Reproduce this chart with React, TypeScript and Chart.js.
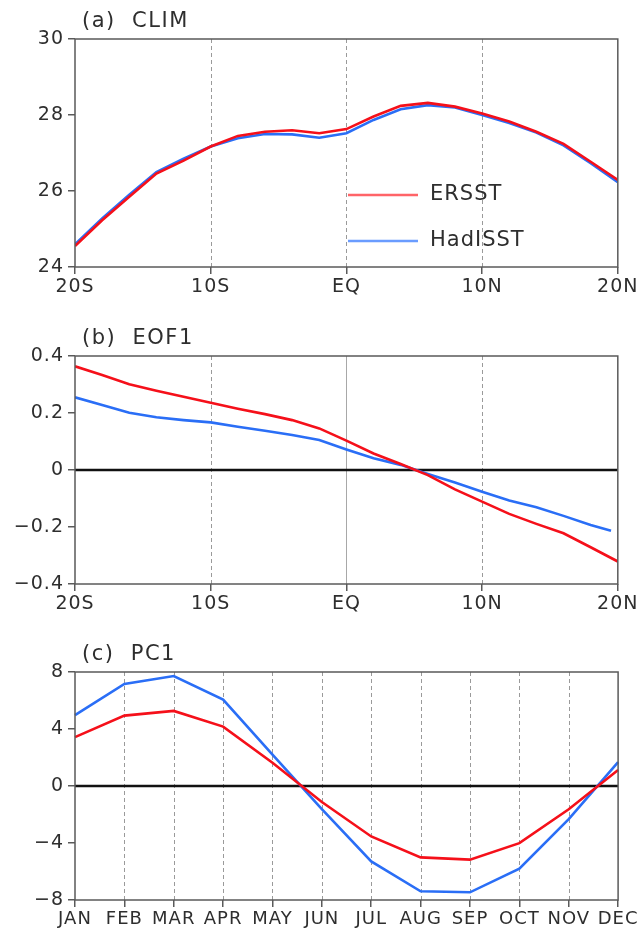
import React, { useEffect, useRef } from "react";
import { Chart, registerables } from "chart.js";

Chart.register(...registerables);

// ---------- data ----------
const latitudes = [-20, -18, -16, -14, -12, -10, -8, -6, -4, -2, 0, 2, 4, 6, 8, 10, 12, 14, 16, 18, 20];
const climERSST = [24.55, 25.23, 25.85, 26.46, 26.8, 27.17, 27.45, 27.56, 27.6, 27.52, 27.63, 27.96, 28.24, 28.32, 28.22, 28.04, 27.83, 27.56, 27.24, 26.77, 26.29];
const climHadISST = [24.6, 25.28, 25.9, 26.5, 26.85, 27.17, 27.39, 27.5, 27.49, 27.4, 27.52, 27.87, 28.15, 28.26, 28.2, 28.0, 27.79, 27.54, 27.2, 26.73, 26.23];

const eofERSST = [0.364, 0.333, 0.301, 0.278, 0.257, 0.236, 0.215, 0.196, 0.175, 0.146, 0.103, 0.058, 0.021, -0.018, -0.068, -0.111, -0.154, -0.189, -0.222, -0.271, -0.321];
const eofHadISSTLat = [-20, -18, -16, -14, -12, -10, -8, -6, -4, -2, 0, 2, 4, 6, 8, 10, 12, 14, 16, 18, 19.5];
const eofHadISST = [0.255, 0.228, 0.201, 0.185, 0.175, 0.167, 0.152, 0.138, 0.123, 0.105, 0.072, 0.041, 0.018, -0.014, -0.044, -0.076, -0.107, -0.131, -0.161, -0.193, -0.213];

const months = ["JAN", "FEB", "MAR", "APR", "MAY", "JUN", "JUL", "AUG", "SEP", "OCT", "NOV", "DEC"];
const pcERSST = [3.43, 4.94, 5.27, 4.17, 1.63, -1.12, -3.54, -5.01, -5.17, -4.01, -1.63, 1.12];
const pcHadISST = [4.97, 7.16, 7.72, 6.06, 2.2, -1.63, -5.29, -7.39, -7.46, -5.8, -2.33, 1.68];

const latTicks = [-20, -10, 0, 10, 20];
const latTickLabels = ["20S", "10S", "EQ", "10N", "20N"];
const climTicks = [24, 26, 28, 30];
const eofTicks = [-0.4, -0.2, 0, 0.2, 0.4];
const eofTickLabels = ["\u22120.4", "\u22120.2", "0", "0.2", "0.4"];
const pcTicks = [-8, -4, 0, 4, 8];
const pcTickLabels = ["\u22128", "\u22124", "0", "4", "8"];

const seriesNames = ["ERSST", "HadISST"];
const RED = "#f5101a";
const BLUE = "#2a6ef6";
const LEGEND_RED = "#ff6468";
const LEGEND_BLUE = "#6a9cff";

const FONT = '"DejaVu Sans", "Liberation Sans", sans-serif';
const TEXT = "#2e2e2e";
const FRAME = "#5a5a5a";

const W = 639;
const AREA_LEFT = 75;
const AREA_RIGHT = 620;

type Decor = {
  title: string;
  dashed: number[];
  solid: number[];
  zero: boolean;
  legend: boolean;
};

const decorPlugin = {
  id: "panelDecor",
  beforeDraw(chart: any) {
    (chart.ctx as any).letterSpacing = "1px";
  },
  beforeDatasetsDraw(chart: any, _args: any, opts: Decor) {
    const { ctx, chartArea: a } = chart;
    const xs = chart.scales.x;
    const ys = chart.scales.y;
    ctx.save();
    ctx.lineWidth = 1;
    ctx.strokeStyle = "#9a9a9a";
    ctx.setLineDash([4, 3]);
    for (const v of opts.dashed) {
      const px = Math.round(xs.getPixelForValue(v)) + 0.5;
      ctx.beginPath();
      ctx.moveTo(px, a.top);
      ctx.lineTo(px, a.bottom);
      ctx.stroke();
    }
    ctx.setLineDash([]);
    ctx.strokeStyle = "#a8a8a8";
    for (const v of opts.solid) {
      const px = Math.round(xs.getPixelForValue(v)) + 0.5;
      ctx.beginPath();
      ctx.moveTo(px, a.top);
      ctx.lineTo(px, a.bottom);
      ctx.stroke();
    }
    if (opts.zero) {
      const py = ys.getPixelForValue(0);
      ctx.strokeStyle = "#111";
      ctx.lineWidth = 2.5;
      ctx.beginPath();
      ctx.moveTo(a.left, py);
      ctx.lineTo(a.right, py);
      ctx.stroke();
    }
    ctx.restore();
  },
  afterDatasetsDraw(chart: any, _args: any, opts: Decor) {
    const { ctx, chartArea: a } = chart;
    ctx.save();
    ctx.strokeStyle = FRAME;
    ctx.lineWidth = 1.5;
    ctx.strokeRect(a.left, a.top, a.right - a.left, a.bottom - a.top);
    ctx.fillStyle = TEXT;
    ctx.font = `21px ${FONT}`;
    ctx.letterSpacing = "1.5px";
    ctx.textAlign = "left";
    ctx.textBaseline = "middle";
    ctx.fillText(opts.title, a.left + 7, a.top - 17);
    if (opts.legend) {
      const colors = [LEGEND_RED, LEGEND_BLUE];
      const rows = [195, 241];
      chart.data.datasets.forEach((ds: any, i: number) => {
        ctx.strokeStyle = colors[i];
        ctx.lineWidth = 2.5;
        ctx.beginPath();
        ctx.moveTo(348, rows[i]);
        ctx.lineTo(418, rows[i]);
        ctx.stroke();
        ctx.fillStyle = TEXT;
        ctx.font = `21px ${FONT}`;
        ctx.letterSpacing = "1px";
        ctx.fillText(ds.label, 430, rows[i]);
      });
    }
    ctx.restore();
  },
};

function makeOptions(opts: {
  height: number;
  top: number;
  bottom: number;
  xLinear: boolean;
  yMin: number;
  yMax: number;
  yTicks: number[];
  yLabels: string[];
  decor: Decor;
}) {
  const tickFont = { family: FONT, size: 19 };
  const xScale: any = opts.xLinear
    ? {
        type: "linear",
        min: -20,
        max: 20,
        afterBuildTicks: (s: any) => {
          s.ticks = latTicks.map((v) => ({ value: v }));
        },
        ticks: {
          autoSkip: false,
          maxRotation: 0,
          color: TEXT,
          font: tickFont,
          padding: 2,
          callback: (v: number) => latTickLabels[latTicks.indexOf(v)] ?? "",
        },
      }
    : {
        type: "category",
        offset: false,
        ticks: { autoSkip: false, maxRotation: 0, color: TEXT, font: { family: FONT, size: 18 }, padding: 2 },
      };
  xScale.grid = { drawOnChartArea: false, drawTicks: true, tickLength: 7, color: FRAME, lineWidth: 1.5 };
  xScale.border = { display: false };
  xScale.afterFit = (s: any) => {
    s.height = opts.height - opts.bottom;
  };
  return {
    responsive: false,
    animation: false as const,
    layout: { padding: { top: opts.top, right: W - AREA_RIGHT, left: 0, bottom: 0 } },
    plugins: {
      legend: { display: false },
      tooltip: { enabled: false },
      panelDecor: opts.decor,
    },
    elements: { point: { radius: 0 }, line: { borderWidth: 2.6, tension: 0 } },
    scales: {
      x: xScale,
      y: {
        type: "linear",
        min: opts.yMin,
        max: opts.yMax,
        afterBuildTicks: (s: any) => {
          s.ticks = opts.yTicks.map((v) => ({ value: v }));
        },
        afterFit: (s: any) => {
          s.width = AREA_LEFT;
        },
        ticks: {
          color: TEXT,
          font: tickFont,
          padding: 4,
          callback: (v: number) => opts.yLabels[opts.yTicks.indexOf(v)] ?? "",
        },
        grid: { drawOnChartArea: false, drawTicks: true, tickLength: 7, color: FRAME, lineWidth: 1.5 },
        border: { display: false },
      },
    },
  };
}

function Panel(props: { top: number; height: number; config: any }) {
  const ref = useRef<HTMLCanvasElement>(null);
  useEffect(() => {
    const chart = new Chart(ref.current as HTMLCanvasElement, props.config);
    return () => chart.destroy();
  }, []);
  return (
    <canvas
      ref={ref}
      width={W}
      height={props.height}
      style={{ position: "absolute", left: 0, top: props.top, width: W, height: props.height }}
    />
  );
}

export default function App() {
  const cfgA = {
    type: "line",
    data: {
      datasets: [
        { label: seriesNames[0], data: latitudes.map((x, i) => ({ x, y: climERSST[i] })), borderColor: RED },
        { label: seriesNames[1], data: latitudes.map((x, i) => ({ x, y: climHadISST[i] })), borderColor: BLUE },
      ],
    },
    options: makeOptions({
      height: 300,
      top: 39,
      bottom: 267,
      xLinear: true,
      yMin: 24,
      yMax: 30,
      yTicks: climTicks,
      yLabels: climTicks.map(String),
      decor: { title: "(a)  CLIM", dashed: [-10, 0, 10], solid: [], zero: false, legend: true },
    }),
    plugins: [decorPlugin],
  };
  const cfgB = {
    type: "line",
    data: {
      datasets: [
        { label: seriesNames[0], data: latitudes.map((x, i) => ({ x, y: eofERSST[i] })), borderColor: RED },
        { label: seriesNames[1], data: eofHadISSTLat.map((x, i) => ({ x, y: eofHadISST[i] })), borderColor: BLUE },
      ],
    },
    options: makeOptions({
      height: 316,
      top: 56,
      bottom: 284,
      xLinear: true,
      yMin: -0.4,
      yMax: 0.4,
      yTicks: eofTicks,
      yLabels: eofTickLabels,
      decor: { title: "(b)  EOF1", dashed: [-10, 10], solid: [0], zero: true, legend: false },
    }),
    plugins: [decorPlugin],
  };
  const cfgC = {
    type: "line",
    data: {
      labels: months,
      datasets: [
        { label: seriesNames[0], data: pcERSST, borderColor: RED },
        { label: seriesNames[1], data: pcHadISST, borderColor: BLUE },
      ],
    },
    options: makeOptions({
      height: 319,
      top: 56,
      bottom: 284,
      xLinear: false,
      yMin: -8,
      yMax: 8,
      yTicks: pcTicks,
      yLabels: pcTickLabels,
      decor: { title: "(c)  PC1", dashed: [1, 2, 3, 4, 5, 6, 7, 8, 9, 10], solid: [], zero: true, legend: false },
    }),
    plugins: [decorPlugin],
  };
  return (
    <div style={{ position: "absolute", left: 0, top: 0, width: W, height: 935, background: "#fff" }}>
      <Panel top={0} height={300} config={cfgA} />
      <Panel top={300} height={316} config={cfgB} />
      <Panel top={616} height={319} config={cfgC} />
    </div>
  );
}
